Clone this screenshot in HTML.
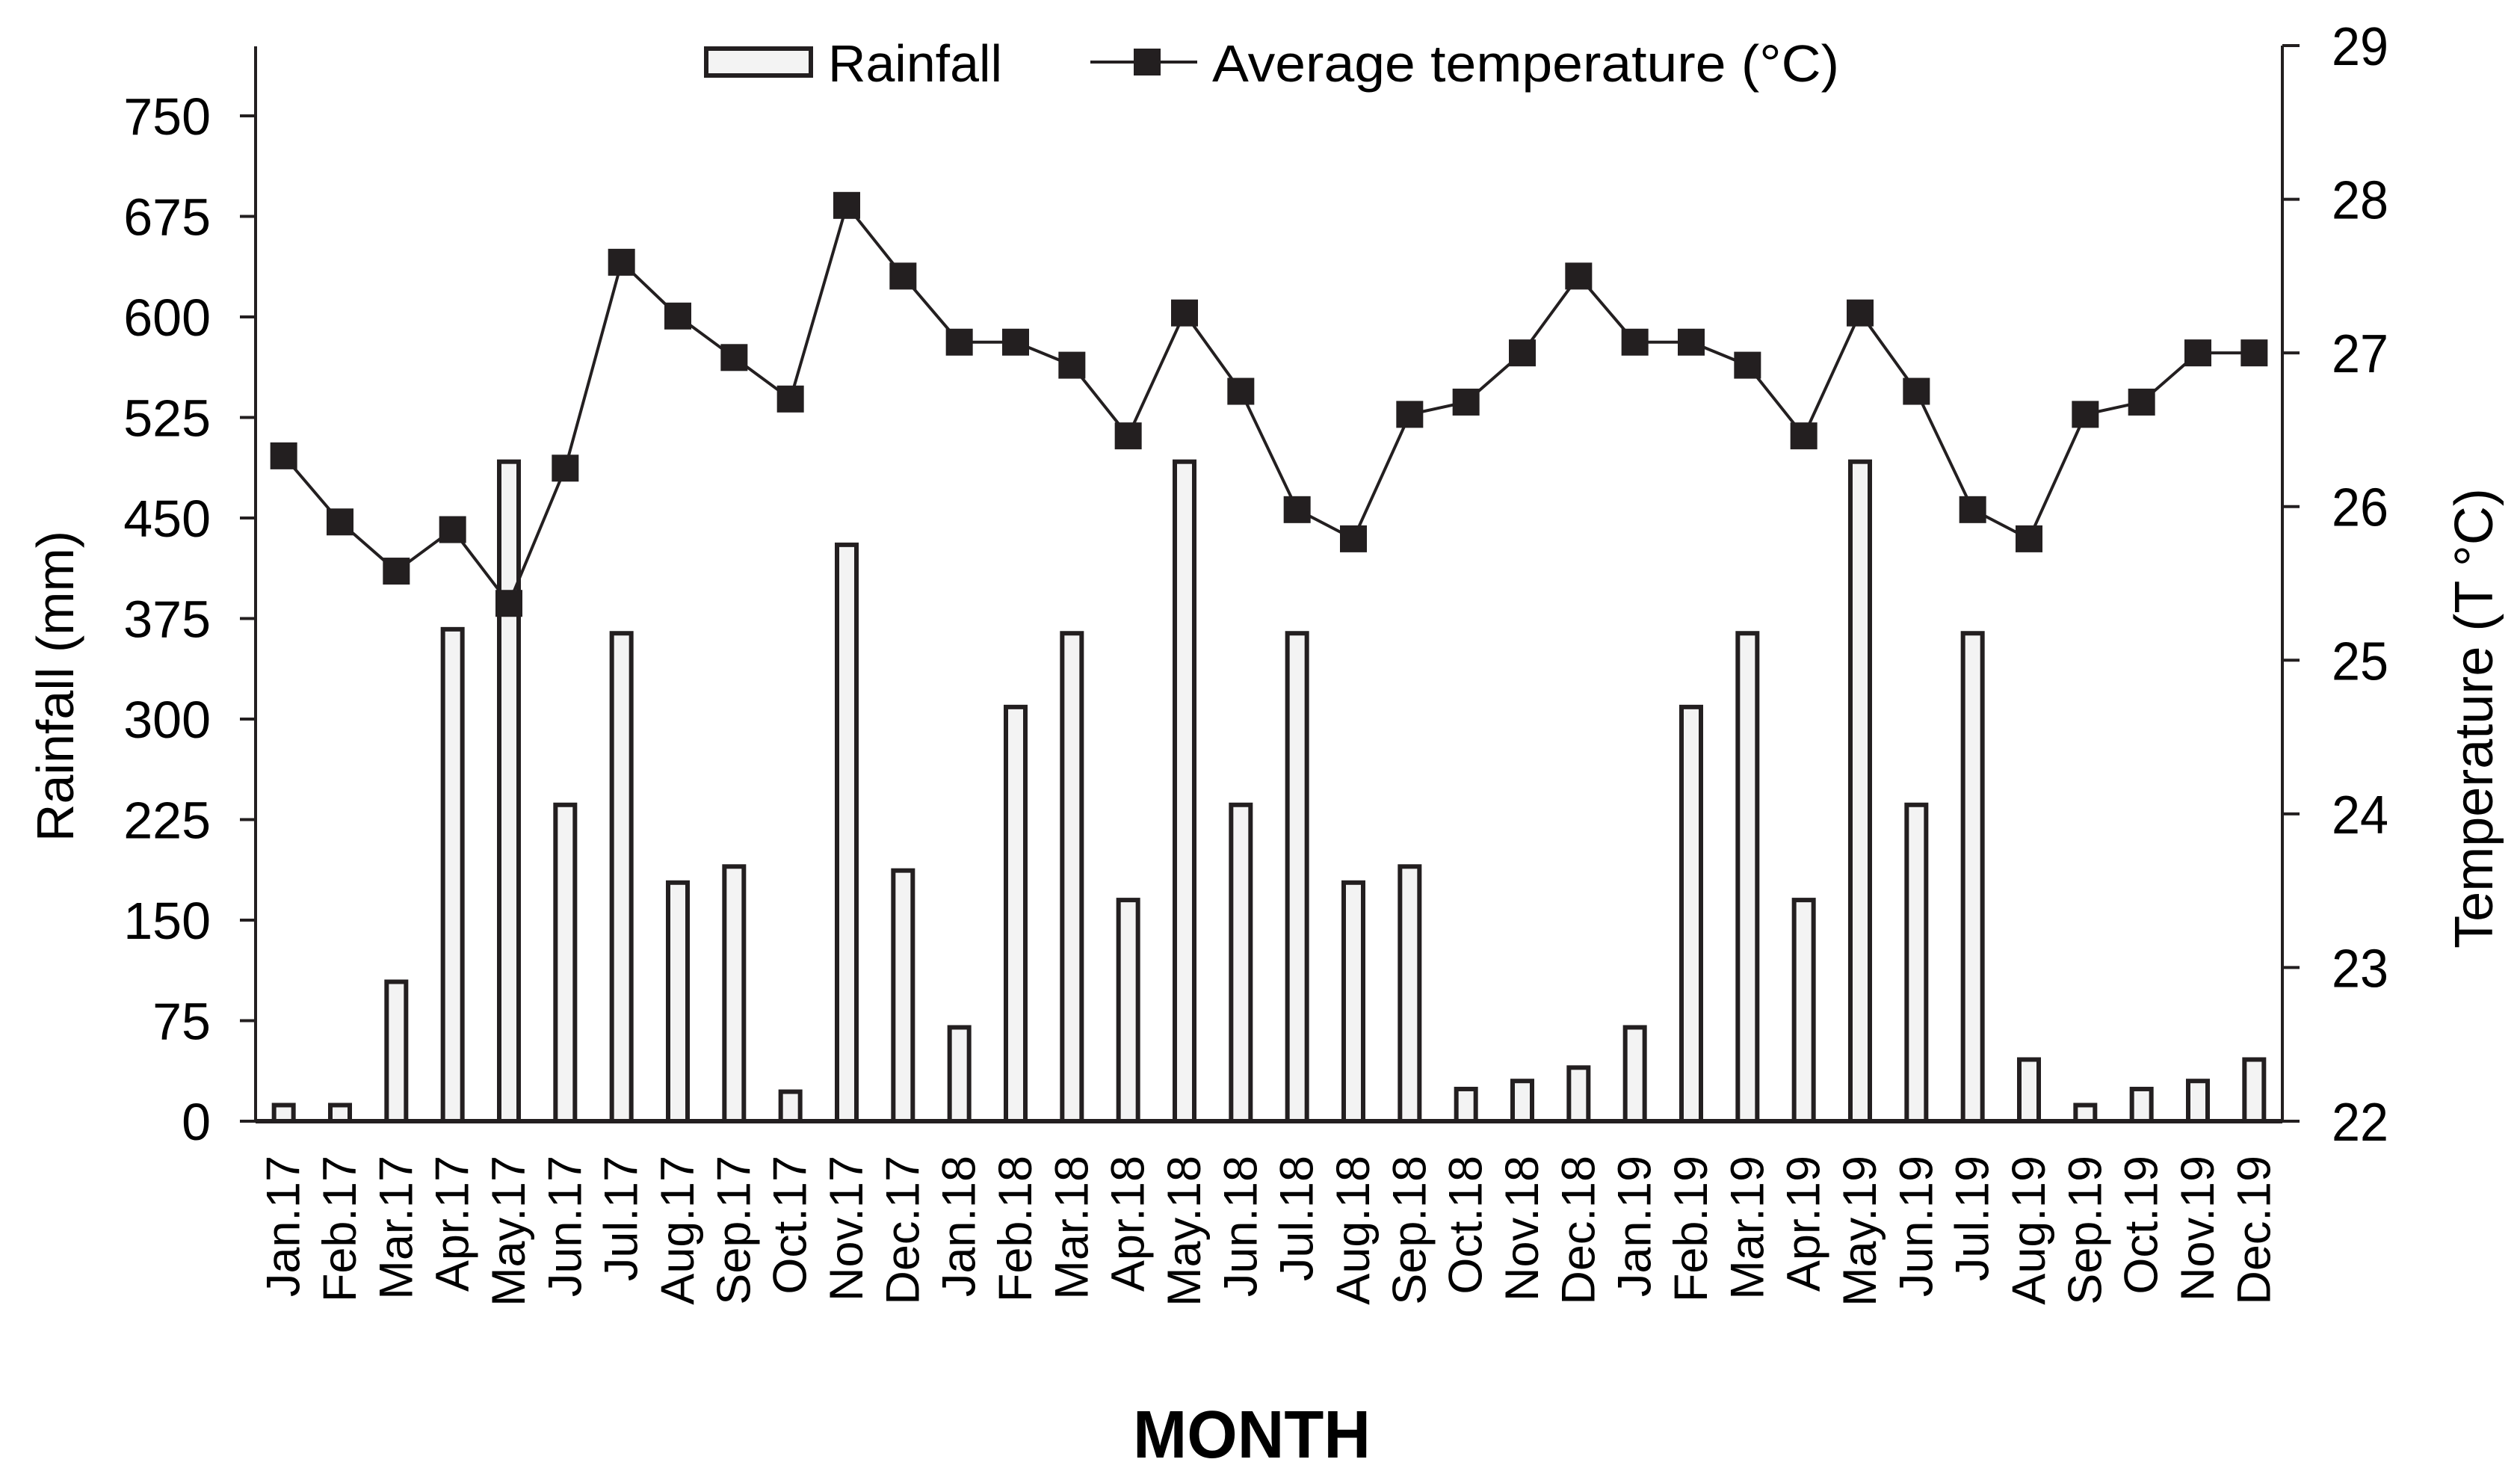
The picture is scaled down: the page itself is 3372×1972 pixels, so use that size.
<!DOCTYPE html>
<html><head><meta charset="utf-8"><style>
html,body{margin:0;padding:0;background:#fff;}
svg{display:block;font-family:"Liberation Sans",Arial,sans-serif;}
</style></head><body>
<svg id="chart" width="3372" height="1972" viewBox="0 0 3372 1972">
<g id="axes"></g>
<g id="bars"></g>
<g id="line"></g>
<g id="legend">
  <rect x="945" y="65" width="140" height="36" fill="#f3f3f3" stroke="#231f20" stroke-width="6"/>
  <text x="1108" y="109" font-size="70" fill="#000" textLength="233" lengthAdjust="spacingAndGlyphs">Rainfall</text>
  <line x1="1459" y1="83" x2="1602" y2="83" stroke="#231f20" stroke-width="4"/>
  <rect x="1517" y="65" width="36" height="36" fill="#231f20"/>
  <text x="1622" y="109" font-size="70" fill="#000" textLength="839" lengthAdjust="spacingAndGlyphs">Average temperature (°C)</text>
</g>
<text x="1675" y="1950" font-size="90" font-weight="bold" text-anchor="middle" fill="#000" textLength="318" lengthAdjust="spacingAndGlyphs">MONTH</text>
<text transform="translate(98,918) rotate(-90)" font-size="70" text-anchor="middle" fill="#000">Rainfall (mm)</text>
<text transform="translate(3335,961) rotate(-90)" font-size="72" text-anchor="middle" fill="#000">Temperature  (T °C)</text>
</svg>
<script>
const months = ["Jan.17","Feb.17","Mar.17","Apr.17","May.17","Jun.17","Jul.17","Aug.17","Sep.17","Oct.17","Nov.17","Dec.17","Jan.18","Feb.18","Mar.18","Apr.18","May.18","Jun.18","Jul.18","Aug.18","Sep.18","Oct.18","Nov.18","Dec.18","Jan.19","Feb.19","Mar.19","Apr.19","May.19","Jun.19","Jul.19","Aug.19","Sep.19","Oct.19","Nov.19","Dec.19"];
const rainfall = [12,12,104,367,492,236,364,178,190,22,430,187,70,309,364,165,492,236,364,178,190,24,30,40,70,309,364,165,492,236,364,46,12,24,30,46];
const temperature = [26.33,25.9,25.58,25.85,25.37,26.25,27.59,27.24,26.97,26.7,27.96,27.5,27.07,27.07,26.92,26.46,27.26,26.75,25.98,25.79,26.6,26.68,27.0,27.5,27.07,27.07,26.92,26.46,27.26,26.75,25.98,25.79,26.6,26.68,27.0,27.0];
const rainTicks = [0,75,150,225,300,375,450,525,600,675,750];
const tempTicks = [22,23,24,25,26,27,28,29];

const NS="http://www.w3.org/2000/svg";
const X0=342,X1=3054,Y0=1500,YT=62;
const band=(X1-X0)/months.length;
const xc=i=>X0+band*(i+0.5);
const yR=v=>Y0-v*(Y0-155)/750;
const yT=v=>Y0-(v-22)*(Y0-61)/7;
function mk(tag,attrs,parent){const e=document.createElementNS(NS,tag);for(const k in attrs)e.setAttribute(k,attrs[k]);parent.appendChild(e);return e;}
const axes=document.getElementById('axes');
let e;
e=mk('line',{x1:X0,y1:YT,x2:X0,y2:Y0,stroke:'#231f20','stroke-width':4},axes);


e=mk('line',{x1:X1,y1:61,x2:X1,y2:Y0,stroke:'#231f20','stroke-width':4},axes);


rainTicks.forEach(v=>{
  const y=yR(v);
  e=mk('line',{x1:321,y1:y,x2:X0,y2:y,stroke:'#231f20','stroke-width':4},axes);
  
  
  e=mk('text',{x:282,y:y+25,'font-size':70,'text-anchor':'end',fill:'#000'},axes);
  e.textContent=v;
  
  
});
tempTicks.forEach(v=>{
  const y=yT(v);
  e=mk('line',{x1:X1,y1:y,x2:3077,y2:y,stroke:'#231f20','stroke-width':4},axes);
  
  
  e=mk('text',{x:3120,y:y+26,'font-size':72,fill:'#000',textLength:76,lengthAdjust:'spacingAndGlyphs'},axes);
  e.textContent=v;
  
  
});
months.forEach((m,i)=>{
  e=mk('text',{transform:`translate(${xc(i)+21},1546) rotate(-90)`,'font-size':63,'text-anchor':'end',fill:'#000'},axes);
  e.textContent=m;
  
  
});
const bars=document.getElementById('bars');
rainfall.forEach((v,i)=>{
  const y=yR(v);
  e=mk('rect',{x:xc(i)-13,y:y,width:26,height:Y0-y,fill:'#f3f3f3',stroke:'#231f20','stroke-width':6},bars);
  
  
});
e=mk('line',{x1:X0,y1:Y0,x2:X1,y2:Y0,stroke:'#231f20','stroke-width':6},axes);


const line=document.getElementById('line');
e=mk('polyline',{points:temperature.map((v,i)=>xc(i)+','+yT(v)).join(' '),fill:'none',stroke:'#231f20','stroke-width':4},line);


temperature.forEach((v,i)=>{
  e=mk('rect',{x:xc(i)-18,y:yT(v)-18,width:36,height:36,fill:'#231f20'},line);
  
  
});
</script>
</body></html>
